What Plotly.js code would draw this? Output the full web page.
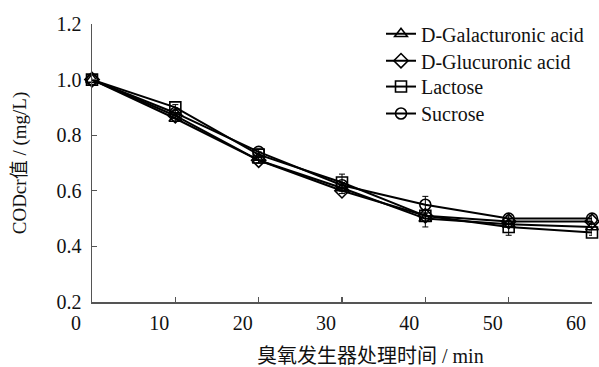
<!DOCTYPE html>
<html>
<head>
<meta charset="utf-8">
<script src="https://cdn.plot.ly/plotly-3.0.1.min.js"></script>
<style>
  html, body { margin: 0; padding: 0; background: #fff; }
  #chart { width: 599px; height: 367px; }
</style>
</head>
<body>
<div id="chart"></div>
<script>
// Ozone treatment time (min)
const times = [0, 10, 20, 30, 40, 50, 60];

// COD values for each sugar solution (mg/L)
const galacturonic = [1.00, 0.86, 0.71, 0.61, 0.50, 0.48, 0.47];
const glucuronic   = [1.00, 0.87, 0.71, 0.60, 0.51, 0.49, 0.49];
const lactose      = [1.00, 0.90, 0.73, 0.63, 0.51, 0.47, 0.45];
const sucrose      = [1.00, 0.88, 0.74, 0.62, 0.55, 0.50, 0.50];

// standard deviations
const galacturonicErr = [0, 0.01, 0.01, 0.01, 0.03, 0.01, 0.01];
const glucuronicErr   = [0, 0.01, 0.01, 0.01, 0.01, 0.01, 0.01];
const lactoseErr      = [0, 0.01, 0.01, 0.03, 0.02, 0.03, 0.01];
const sucroseErr      = [0, 0.01, 0.01, 0.01, 0.03, 0.01, 0.01];

const seriesNames = ["D-Galacturonic acid", "D-Glucuronic acid", "Lactose", "Sucrose"];
const seriesValues = [galacturonic, glucuronic, lactose, sucrose];
const seriesErrors = [galacturonicErr, glucuronicErr, lactoseErr, sucroseErr];
const seriesSymbols = ["triangle-up-open", "diamond-open", "square-open", "circle-open"];

const xTicks = [0, 10, 20, 30, 40, 50, 60];
const yTicks = [0.2, 0.4, 0.6, 0.8, 1.0, 1.2];
const xTitle = "臭氧发生器处理时间 / min";
const yTitle = "CODcr值 / (mg/L)";

const serif = "Liberation Serif, Noto Sans CJK SC, serif";

// one legend box per series so the rows sit tightly stacked
const legendIds = ["legend", "legend2", "legend3", "legend4"];
const legendRowY = [0.965, 0.868, 0.775, 0.678];

const traces = seriesNames.map((name, i) => ({
  type: "scatter",
  mode: "lines+markers",
  name: name,
  legend: legendIds[i],
  x: times,
  y: seriesValues[i],
  error_y: { type: "data", array: seriesErrors[i], visible: true, color: "#000", thickness: 1, width: 3 },
  line: { color: "#000", width: 2 },
  marker: {
    symbol: seriesSymbols[i],
    size: 11,
    color: "#000",
    line: { color: "#000", width: 1.6 }
  },
  cliponaxis: false
}));

const layout = {
  width: 599,
  height: 367,
  margin: { l: 92, r: 7, t: 24, b: 64.5 },
  paper_bgcolor: "#fff",
  plot_bgcolor: "#fff",
  font: { family: serif, size: 19, color: "#111" },
  showlegend: true,
  xaxis: {
    range: [0, 60],
    automargin: false,
    tickvals: xTicks,
    ticktext: xTicks.map(String),
    ticks: "inside",
    ticklen: 5,
    tickwidth: 1.2,
    tickcolor: "#555",
    ticklabelshift: -16,
    ticklabelstandoff: 2,
    showline: true,
    linecolor: "#555",
    linewidth: 1.5,
    showgrid: false,
    zeroline: false,
    tickfont: { family: serif, size: 20, color: "#111" }
  },
  yaxis: {
    range: [0.2, 1.2],
    automargin: false,
    tickvals: yTicks,
    ticktext: yTicks.map(v => v.toFixed(1)),
    ticks: "inside",
    ticklen: 5,
    tickwidth: 1.2,
    tickcolor: "#555",
    ticklabelstandoff: 5,
    showline: true,
    linecolor: "#555",
    linewidth: 1.5,
    showgrid: false,
    zeroline: false,
    tickfont: { family: serif, size: 20, color: "#111" },
    title: { text: yTitle, font: { family: serif, size: 19, color: "#111" }, standoff: 25 }
  },
  annotations: [{
    text: xTitle,
    xref: "paper", yref: "paper",
    x: 0.556, y: -0.196,
    xanchor: "center", yanchor: "middle",
    showarrow: false,
    font: { family: serif, size: 20, color: "#111" }
  }]
};

legendIds.forEach((id, i) => {
  layout[id] = {
    x: 0.578, y: legendRowY[i], xanchor: "left", yanchor: "middle",
    bgcolor: "rgba(0,0,0,0)",
    borderwidth: 0,
    font: { family: serif, size: 20, color: "#111" }
  };
});

Plotly.newPlot("chart", traces, layout, { displayModeBar: false, staticPlot: true });
</script>
</body>
</html>
